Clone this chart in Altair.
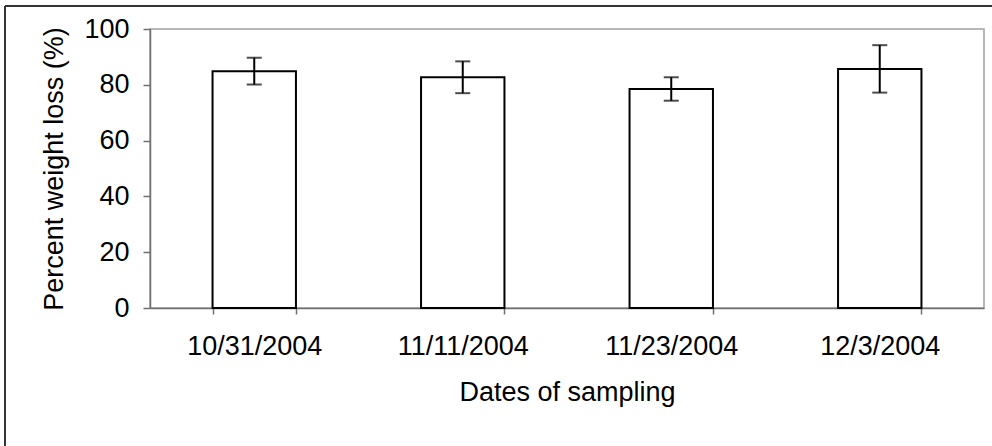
import altair as alt
import pandas as pd

dates = ["10/31/2004", "11/11/2004", "11/23/2004", "12/3/2004"]
means = [84.9, 82.7, 78.5, 85.7]
errors = [4.8, 5.7, 4.2, 8.5]
y_ticks = [0, 20, 40, 60, 80, 100]

df = pd.DataFrame({"date": dates, "mean": means, "err": errors})

FONT = "Liberation Sans"
FS = 27

x_enc = alt.X(
    "date:N",
    sort=dates,
    scale=alt.Scale(paddingInner=0.6, paddingOuter=0.3),
    axis=alt.Axis(
        title="Dates of sampling",
        labelAngle=0,
        tickBand="extent",
        tickSize=6,
        labelPadding=19,
        titleBaseline="alphabetic",
        titleY=92,
    ),
)
y_enc = alt.Y(
    "mean:Q",
    scale=alt.Scale(domain=[0, 100], nice=False),
    axis=alt.Axis(
        title="Percent weight loss (%)",
        values=y_ticks,
        tickSize=7,
        labelPadding=14,
        grid=False,
        titleBaseline="alphabetic",
        titleX=-88,
    ),
)

base = alt.Chart(df)

bars = base.mark_bar(fill="white", stroke="black", strokeWidth=2).encode(x=x_enc, y=y_enc)

err = base.transform_calculate(lo="datum.mean - datum.err", hi="datum.mean + datum.err")
rule = err.mark_rule(color="black", strokeWidth=2).encode(
    x=alt.X("date:N", sort=dates), y="lo:Q", y2="hi:Q"
)
cap_lo = err.mark_tick(color="black", thickness=2, size=15).encode(
    x=alt.X("date:N", sort=dates), y="lo:Q"
)
cap_hi = err.mark_tick(color="black", thickness=2, size=15).encode(
    x=alt.X("date:N", sort=dates), y="hi:Q"
)

frame_top = base.mark_rule(color="#333333", strokeWidth=2).encode(
    x=alt.value(-145), x2=alt.value(842), y=alt.value(-23)
)
frame_left = base.mark_rule(color="#333333", strokeWidth=2).encode(
    x=alt.value(-145), y=alt.value(-23), y2=alt.value(420)
)

chart = (
    alt.layer(bars, rule, cap_lo, cap_hi, frame_top, frame_left)
    .properties(
        width=834,
        height=279,
        autosize=alt.AutoSizeParams(type="none"),
        padding={"left": 150, "top": 29, "right": 8, "bottom": 138},
    )
    .configure_view(stroke="#a0a0a0", strokeWidth=1.5)
    .configure_axis(
        labelFont=FONT,
        titleFont=FONT,
        labelFontSize=FS,
        titleFontSize=FS,
        labelColor="black",
        titleColor="black",
        titleFontWeight="normal",
        domainColor="#707070",
        tickColor="#707070",
        domainWidth=1.5,
        tickWidth=1.5,
    )
)

chart.save("out.html", embed_options={"renderer": "svg", "actions": False})
